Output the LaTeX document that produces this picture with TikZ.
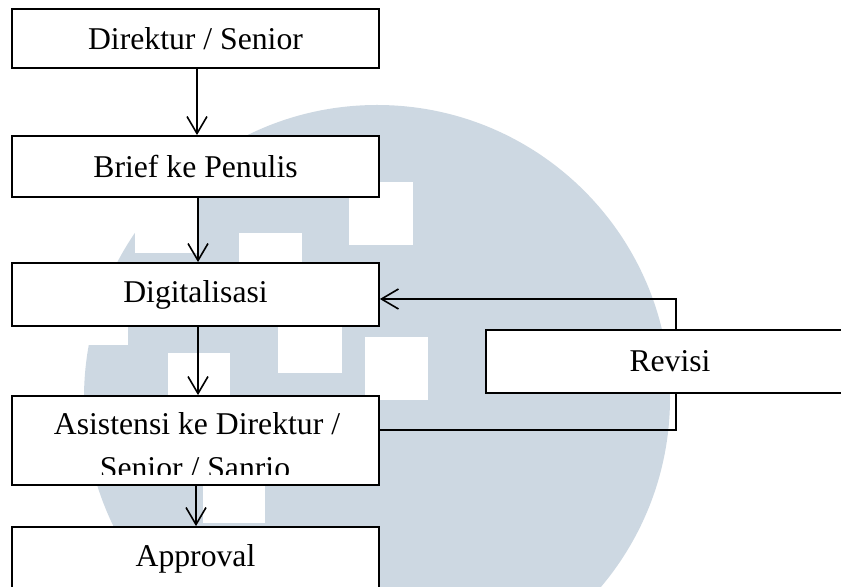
\documentclass[tikz,border=0pt]{standalone}
\usepackage{fontspec}
\setmainfont{Liberation Serif}
\usetikzlibrary{arrows.meta}
\definecolor{wm}{HTML}{CDD8E2}
\begin{document}
\begin{tikzpicture}[x=0.5pt,y=-0.5pt,
  lbl/.style={font=\fontsize{15.85}{19}\selectfont},
  box/.style={draw=black, line width=0.9pt, fill=white, inner sep=0pt, lbl},
  conn/.style={line width=0.8pt, -{Straight Barb[length=8.5pt,width=10pt,line width=0.8pt]}},
  wsq/.style={fill=white}]
\clip (0,0) rectangle (841,587);
\fill[white] (0,0) rectangle (841,587);
% watermark
\fill[wm] (377,398) circle[radius=293];
\fill[wsq] (349,182) rectangle (413,245);
\fill[wsq] (239,233) rectangle (302,296);
\fill[wsq] (278,310) rectangle (342,373);
\fill[wsq] (365,337) rectangle (428,400);
\fill[wsq] (168,353) rectangle (230,416);
\fill[wsq] (65,282) rectangle (128,345);
\fill[wsq] (135,190) rectangle (198,253);
\fill[wsq] (203,460) rectangle (265,523);
% boxes
\node[box, minimum width=183.5pt, minimum height=29.5pt] (dir) at (195.5,38.5) {Direktur / Senior};
\node[box, minimum width=183.5pt, minimum height=30.5pt] (brief) at (195.5,166.5) {Brief ke Penulis};
\node[box, minimum width=183.5pt, minimum height=31.5pt] (dig) at (195.5,294.5) {Digitalisasi};
\node[box, minimum width=183.5pt, minimum height=44.5pt] (asis) at (195.5,440.5) {};
\begin{scope}
\clip (12,396) rectangle (379,475);
\node[lbl, anchor=base, inner sep=0pt] (asis1) at (197,435) {Asistensi ke Direktur /};
\node[lbl, anchor=base, inner sep=0pt] (asis2) at (195,479) {Senior / Sanrio};
\end{scope}
\node[box, minimum width=183.5pt, minimum height=32pt] (appr) at (195.5,559) {Approval};
% connectors
\draw[conn] ([xshift=0.75pt]dir.south) -- ([xshift=0.75pt]brief.north);
\draw[conn] ([xshift=1.25pt]brief.south) -- ([xshift=1.25pt]dig.north);
\draw[conn] ([xshift=1.25pt]dig.south) -- ([xshift=1.25pt]asis.north);
\draw[conn] ([xshift=0.25pt]asis.south) -- ([xshift=0.25pt]appr.north);
\coordinate (rv) at (676,365);
\draw[conn] ([yshift=5.25pt]asis.east) -| (rv) |- ([yshift=-2.25pt]dig.east);
\node[box, minimum width=184pt, minimum height=31.5pt] (rev) at (670,361.5) {Revisi};
\end{tikzpicture}
\end{document}
